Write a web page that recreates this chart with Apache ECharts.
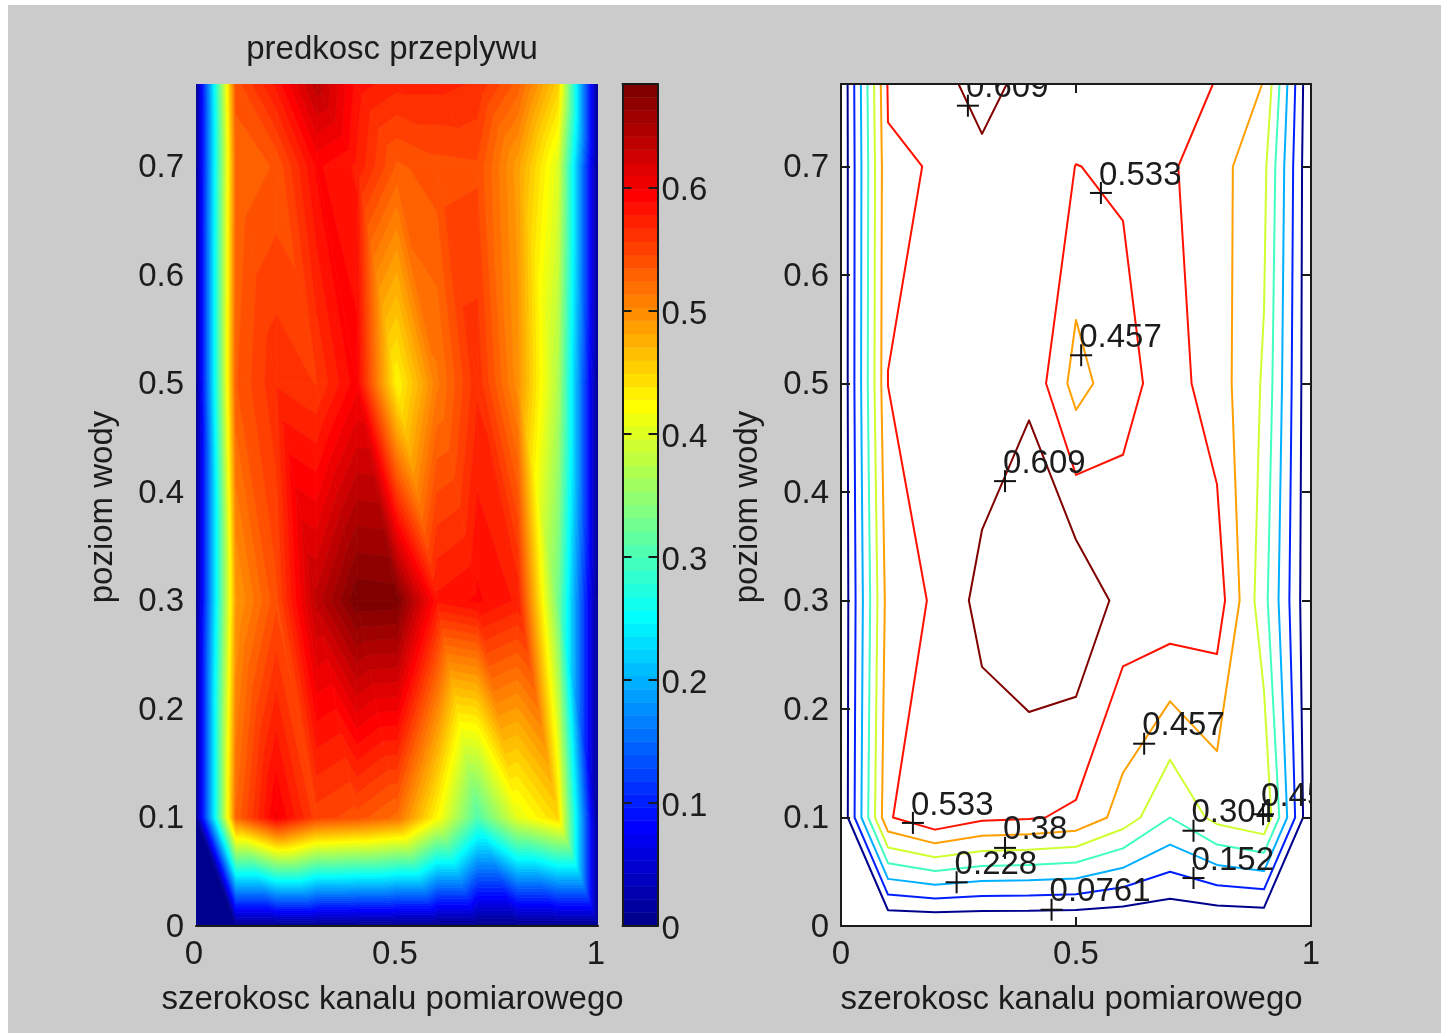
<!DOCTYPE html>
<html><head><meta charset="utf-8">
<script src="https://cdn.jsdelivr.net/npm/echarts@6/dist/echarts.min.js"></script>
<style>
html,body{margin:0;padding:0;background:#fff;width:1441px;height:1033px;overflow:hidden}
#bg{position:absolute;left:8px;top:5px;width:1433px;height:1028px;background:#cbcbcb}
#c{position:absolute;left:0;top:0;width:1441px;height:1033px;filter:blur(0.55px)}
</style></head><body><div id="bg"></div><div id="c"></div>
<script>
const xGrid=[0,0.1,0.2,0.3,0.4,0.5,0.6,0.7,0.8,0.9,1];
const yGrid=[0,0.1,0.3,0.5,0.7,0.776];
const row000=[0,0,0,0,0,0,0,0,0,0,0];
const row010=[0,0.525,0.60,0.55,0.54,0.52,0.425,0.304,0.405,0.45,0];
const row030=[0,0.49,0.542,0.635,0.682,0.68,0.58,0.59,0.575,0.33,0];
const row050=[0,0.5335,0.565,0.555,0.594,0.426,0.51,0.564,0.4965,0.37,0];
const row070=[0,0.525,0.536,0.59,0.575,0.532,0.5407,0.543,0.486,0.40,0];
const row078=[0,0.54,0.58,0.638,0.583,0.57,0.57,0.565,0.53,0.454,0];
const rows=[row000,row010,row030,row050,row070,row078];
const contourLevels=[0.0761,0.152,0.228,0.304,0.38,0.457,0.533,0.609];
const labelX=[0.27,0.553,0.511,0.349,0.153,0.349,0.246,0.448,0.645,0.75,0.75,0.898];
const labelY=[0.756,0.6756,0.526,0.41,0.095,0.072,0.0403,0.015,0.168,0.0878,0.0442,0.103];
const labelText=['0.609','0.533','0.457','0.609','0.533','0.38','0.228','0.0761','0.457','0.304','0.152','0.457'];
const colorMax=0.684, nColors=64, yMax=0.776;
const FONT='"Liberation Sans"', INK='#1c1c1c';

function cl(v){return Math.max(0,Math.min(1,v));}
function jetColor(i){const x=(i+1)/64;
  const r=cl(Math.min(4*x-1.5,-4*x+4.5)),g=cl(Math.min(4*x-0.5,-4*x+3.5)),b=cl(Math.min(4*x+0.5,-4*x+2.5));
  return 'rgb('+Math.round(r*255)+','+Math.round(g*255)+','+Math.round(b*255)+')';}
const jet=[];for(let i=0;i<nColors;i++)jet.push(jetColor(i));

// mesh triangles, split along the top-left to bottom-right diagonal as in the source plot
const tris=[];
for(let j=0;j<yGrid.length-1;j++)for(let i=0;i<xGrid.length-1;i++){
  const x0=xGrid[i],x1=xGrid[i+1],y0=yGrid[j],y1=yGrid[j+1];
  tris.push([x0,y0,rows[j][i],x1,y0,rows[j][i+1],x0,y1,rows[j+1][i]]);
  tris.push([x1,y1,rows[j+1][i+1],x0,y1,rows[j+1][i],x1,y0,rows[j][i+1]]);
}
function clipBand(poly,lim,keepAbove){const out=[];
  for(let i=0;i<poly.length;i++){const a=poly[i],b=poly[(i+1)%poly.length];
    const ina=keepAbove?a[2]>=lim:a[2]<=lim,inb=keepAbove?b[2]>=lim:b[2]<=lim;
    if(ina)out.push(a);
    if(ina!==inb){const t=(lim-a[2])/(b[2]-a[2]);out.push([a[0]+t*(b[0]-a[0]),a[1]+t*(b[1]-a[1]),lim]);}
  }return out;}
function renderTri(params,api){
  const v=[];for(let k=0;k<9;k++)v.push(api.value(k));
  const poly=[[v[0],v[1],v[2]],[v[3],v[4],v[5]],[v[6],v[7],v[8]]];
  const zs=[v[2],v[5],v[8]],step=colorMax/nColors;
  const lo=Math.max(0,Math.floor(Math.min(...zs)/step)),hi=Math.min(nColors-1,Math.floor(Math.max(...zs)/step));
  const children=[];
  for(let k=lo;k<=hi;k++){
    let p=clipBand(poly,k*step,true);
    if(p.length>2&&k<nColors-1)p=clipBand(p,(k+1)*step,false);
    if(p.length<3)continue;
    children.push({type:'polygon',shape:{points:p.map(q=>api.coord([q[0],q[1]]))},
      style:{fill:jet[k],stroke:jet[k],lineWidth:0.7}});
  }
  return {type:'group',children};
}
// contour segments per mesh cell
function contourSegments(L){const d=[];
  for(let j=0;j<yGrid.length-1;j++)for(let i=0;i<xGrid.length-1;i++){
    const x0=xGrid[i],x1=xGrid[i+1],y0=yGrid[j],y1=yGrid[j+1];
    const a=rows[j][i],b=rows[j][i+1],c=rows[j+1][i+1],e=rows[j+1][i];
    const pts=[];
    if((a<L)!==(b<L))pts.push([x0+(L-a)/(b-a)*(x1-x0),y0]);
    if((b<L)!==(c<L))pts.push([x1,y0+(L-b)/(c-b)*(y1-y0)]);
    if((c<L)!==(e<L))pts.push([x0+(L-e)/(c-e)*(x1-x0),y1]);
    if((e<L)!==(a<L))pts.push([x0,y0+(L-a)/(e-a)*(y1-y0)]);
    if(pts.length===2){d.push(pts[0],pts[1],null);}
    else if(pts.length===4){const m=(a+b+c+e)/4;
      if((m<L)===(a<L)){d.push(pts[0],pts[1],null,pts[2],pts[3],null);}
      else{d.push(pts[3],pts[0],null,pts[1],pts[2],null);}}
  }return d;}
function contourColor(L){const f=(L-contourLevels[0])/(contourLevels[contourLevels.length-1]-contourLevels[0]);
  return jet[Math.round(f*63)];}

const axisLine={onZero:false,lineStyle:{color:'#1a1a1a',width:2}};
const tick={show:true,inside:true,length:9,lineStyle:{color:'#1a1a1a',width:2}};
const lab={color:INK,fontFamily:FONT,fontSize:33,margin:12};
const fmt=v=>String(Math.round(v*10)/10);
const nameSt=(pad)=>({color:INK,fontFamily:FONT,fontSize:33,padding:pad});

const contourSeries=contourLevels.map(L=>({type:'line',xAxisIndex:3,yAxisIndex:3,data:contourSegments(L),
  showSymbol:false,symbol:'none',connectNulls:false,clip:true,z:3,
  lineStyle:{color:contourColor(L),width:2,cap:'round'}}));

const option={
  animation:false,backgroundColor:'transparent',
  title:{text:'predkosc przeplywu',left:387,top:28,textAlign:'center',
    textStyle:{color:INK,fontFamily:FONT,fontSize:33,fontWeight:'normal'}},
  grid:[
    {left:196,top:84,width:402,height:842},
    {left:622.5,top:84,width:35,height:842},
    {left:841,top:84,width:470,height:842,show:true,backgroundColor:'#fff',borderWidth:0}
  ],
  xAxis:[
    {gridIndex:0,type:'value',min:0,max:1,interval:0.5,z:10,axisLine:{show:true,...axisLine},axisTick:{show:false},splitLine:{show:false},
     axisLabel:{...lab,margin:12,padding:[0,4,0,0],formatter:fmt},name:'szerokosc kanalu pomiarowego',nameLocation:'middle',nameGap:57,nameTextStyle:nameSt([0,9,0,0])},
    {gridIndex:1,type:'value',min:0,max:1,show:false},
    {gridIndex:1,type:'value',min:0,max:1,position:'top',z:10,axisLine:{show:true,...axisLine},axisTick:{show:false},axisLabel:{show:false},splitLine:{show:false}},
    {gridIndex:2,type:'value',min:0,max:1,interval:0.5,z:10,axisLine:{show:true,...axisLine},axisTick:tick,splitLine:{show:false},
     axisLabel:{...lab,margin:12,padding:[0,0,0,0],formatter:fmt},name:'szerokosc kanalu pomiarowego',nameLocation:'middle',nameGap:57,nameTextStyle:nameSt([0,9,0,0])},
    {gridIndex:2,type:'value',min:0,max:1,interval:0.5,position:'top',z:10,axisLine:{show:true,...axisLine},axisTick:tick,axisLabel:{show:false},splitLine:{show:false}},
    {gridIndex:1,type:'value',min:0,max:1,position:'bottom',z:10,axisLine:{show:true,...axisLine},axisTick:{show:false},axisLabel:{show:false},splitLine:{show:false}}
  ],
  yAxis:[
    {gridIndex:0,type:'value',min:0,max:yMax,interval:0.1,z:10,axisLine:{show:false},axisTick:{show:false},splitLine:{show:false},
     axisLabel:{...lab,verticalAlign:'top',lineHeight:3,showMaxLabel:false,formatter:fmt},name:'poziom wody',nameLocation:'middle',nameGap:77,nameTextStyle:nameSt([0,4,0,0])},
    {gridIndex:1,type:'value',min:0,max:colorMax,interval:0.1,position:'right',z:10,axisLine:{show:true,...axisLine},
     axisTick:{...tick,length:9},splitLine:{show:false},axisLabel:{...lab,margin:4,verticalAlign:'top',lineHeight:8,showMaxLabel:false,formatter:fmt}},
    {gridIndex:1,type:'value',min:0,max:colorMax,interval:0.1,position:'left',z:10,axisLine:{show:true,...axisLine},
     axisTick:{...tick,length:9},axisLabel:{show:false},splitLine:{show:false}},
    {gridIndex:2,type:'value',min:0,max:yMax,interval:0.1,z:10,axisLine:{show:true,...axisLine},axisTick:tick,splitLine:{show:false},
     axisLabel:{...lab,verticalAlign:'top',lineHeight:3,showMaxLabel:false,formatter:fmt},name:'poziom wody',nameLocation:'middle',nameGap:77,nameTextStyle:nameSt([0,4,0,0])},
    {gridIndex:2,type:'value',min:0,max:yMax,interval:0.1,position:'right',z:10,axisLine:{show:true,...axisLine},axisTick:tick,axisLabel:{show:false},splitLine:{show:false}}
  ],
  series:[
    {type:'custom',name:'predkosc',xAxisIndex:0,yAxisIndex:0,clip:true,z:2,silent:true,data:tris,
     encode:{x:[0,3,6],y:[1,4,7]},renderItem:renderTri},
    {type:'custom',name:'colorbar',xAxisIndex:1,yAxisIndex:1,clip:true,z:2,silent:true,
     data:jet.map((c,i)=>[0,i*colorMax/nColors,1,(i+1)*colorMax/nColors]),
     encode:{x:[0,2],y:[1,3]},
     renderItem:(p,api)=>{const a=api.coord([api.value(0),api.value(1)]),b=api.coord([api.value(2),api.value(3)]);
       return {type:'rect',shape:{x:a[0],y:b[1],width:b[0]-a[0],height:a[1]-b[1]},style:{fill:jet[p.dataIndex],stroke:jet[p.dataIndex],lineWidth:0.5}};}},
    ...contourSeries,
    {type:'custom',name:'labels',xAxisIndex:3,yAxisIndex:3,clip:true,z:5,silent:true,
     data:labelX.map((x,i)=>[x,labelY[i]]),encode:{x:0,y:1},
     renderItem:(p,api)=>{const c=api.coord([api.value(0),api.value(1)]),s={stroke:'#111',lineWidth:2,fill:null};
       return {type:'group',children:[
         {type:'line',shape:{x1:c[0]-11,y1:c[1],x2:c[0]+11,y2:c[1]},style:s},
         {type:'line',shape:{x1:c[0],y1:c[1]-11,x2:c[0],y2:c[1]+11},style:s},
         {type:'text',style:{x:c[0]-2,y:c[1]-1,text:labelText[p.dataIndex],fill:INK,font:'33px '+FONT,textAlign:'left',textVerticalAlign:'bottom'}}
       ]};}}
  ]
};
const chart=echarts.init(document.getElementById('c'),null,{renderer:'canvas',width:1441,height:1033});
chart.setOption(option);
</script></body></html>
